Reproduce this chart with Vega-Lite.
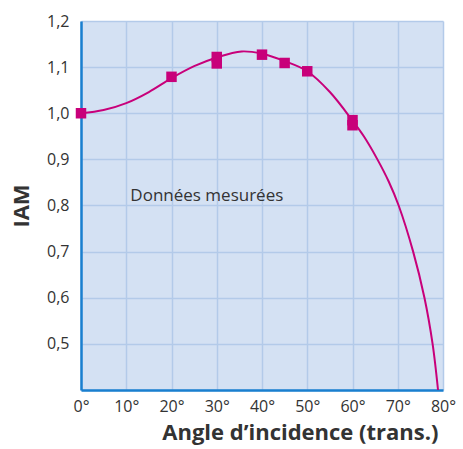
{
  "$schema": "https://vega.github.io/schema/vega-lite/v6.json",
  "autosize": {"type": "none"},
  "padding": {"left": 81, "top": 21, "right": 20, "bottom": 59},
  "width": 362,
  "height": 369,
  "config": {
    "font": "Open Sans",
    "view": {"fill": "#d4e1f3", "stroke": null},
    "axis": {
      "grid": true,
      "gridColor": "#b3cae9",
      "gridWidth": 1.5,
      "gridOpacity": 1,
      "domainColor": "#1a7fcf",
      "domainWidth": 2.5,
      "ticks": false,
      "labelFont": "Open Sans",
      "labelFontSize": 16,
      "labelColor": "#333333",
      "titleFont": "Open Sans",
      "titleFontSize": 22,
      "titleFontWeight": "bold",
      "titleColor": "#333333"
    }
  },
  "datasets": {
    "curve": [
      {"angle": 0, "iam": 1.0},
      {"angle": 5, "iam": 1.007},
      {"angle": 10, "iam": 1.022},
      {"angle": 15, "iam": 1.046},
      {"angle": 20, "iam": 1.076},
      {"angle": 25, "iam": 1.102},
      {"angle": 30, "iam": 1.121},
      {"angle": 35.5, "iam": 1.134},
      {"angle": 40, "iam": 1.129},
      {"angle": 45, "iam": 1.113},
      {"angle": 50, "iam": 1.091},
      {"angle": 55, "iam": 1.046},
      {"angle": 60, "iam": 0.984},
      {"angle": 62.5, "iam": 0.95},
      {"angle": 65.5, "iam": 0.9},
      {"angle": 68, "iam": 0.852},
      {"angle": 70.2, "iam": 0.8},
      {"angle": 73.4, "iam": 0.7},
      {"angle": 75.9, "iam": 0.6},
      {"angle": 77.7, "iam": 0.5},
      {"angle": 78.9, "iam": 0.4}
    ],
    "points": [
      {"angle": 0, "iam": 1.0},
      {"angle": 20, "iam": 1.079},
      {"angle": 30, "iam": 1.122},
      {"angle": 30, "iam": 1.108},
      {"angle": 40, "iam": 1.127},
      {"angle": 45, "iam": 1.109},
      {"angle": 50, "iam": 1.091},
      {"angle": 60, "iam": 0.985},
      {"angle": 60, "iam": 0.974}
    ],
    "notes": [
      {"angle": 10.9, "iam": 0.82, "label": "Données mesurées"}
    ]
  },
  "layer": [
    {
      "data": {"name": "curve"},
      "mark": {"type": "line", "color": "#c8007a", "strokeWidth": 2, "interpolate": "catmull-rom"},
      "encoding": {
        "x": {
          "field": "angle", "type": "quantitative",
          "scale": {"domain": [0, 80], "nice": false},
          "axis": {
            "values": [0, 10, 20, 30, 40, 50, 60, 70, 80],
            "labelExpr": "datum.value + '°'",
            "labelPadding": 8,
            "labelFlush": false,
            "labelBound": false,
            "title": "Angle d’incidence (trans.)",
            "titleX": 357,
            "titleAlign": "right",
            "titleAnchor": "end",
            "titlePadding": 8
          }
        },
        "y": {
          "field": "iam", "type": "quantitative",
          "scale": {"domain": [0.4, 1.2], "nice": false, "zero": false},
          "axis": {
            "values": [0.4, 0.5, 0.6, 0.7, 0.8, 0.9, 1.0, 1.1, 1.2],
            "labelExpr": "datum.value < 0.45 ? '' : replace(format(datum.value, '.1f'), '.', ',')",
            "labelPadding": 12,
            "labelFlush": false,
            "title": "IAM",
            "titlePadding": 13
          }
        }
      }
    },
    {
      "data": {"name": "points"},
      "mark": {"type": "square", "color": "#c8007a", "size": 110, "opacity": 1, "filled": true},
      "encoding": {
        "x": {"field": "angle", "type": "quantitative"},
        "y": {"field": "iam", "type": "quantitative"}
      }
    },
    {
      "data": {"name": "notes"},
      "mark": {"type": "text", "align": "left", "baseline": "middle", "fontSize": 17, "color": "#333333", "font": "Open Sans"},
      "encoding": {
        "x": {"field": "angle", "type": "quantitative"},
        "y": {"field": "iam", "type": "quantitative"},
        "text": {"field": "label"}
      }
    }
  ]
}
